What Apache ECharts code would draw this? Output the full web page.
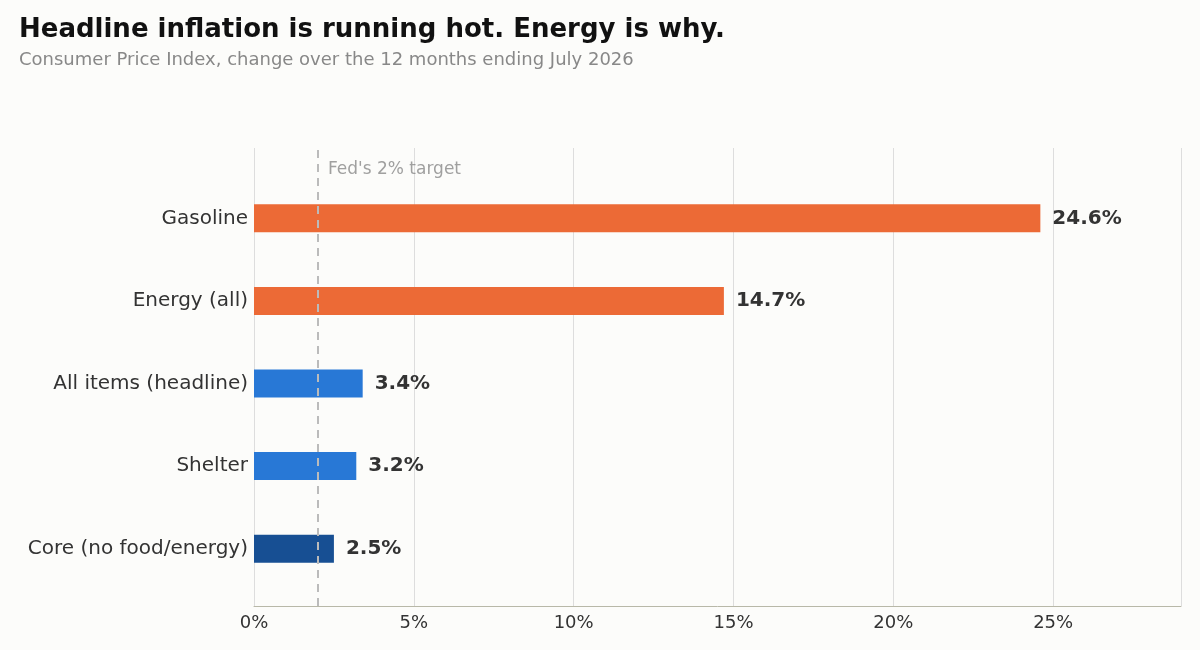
<!DOCTYPE html>
<html>
<head>
<meta charset="utf-8">
<script src="https://cdn.jsdelivr.net/npm/echarts@6/dist/echarts.min.js"></script>
<style>
  html, body { margin: 0; background: #fcfcfa; }
  #chart { width: 1200px; height: 650px; }
</style>
</head>
<body>
<div id="chart"></div>
<script>
// bottom to top
const categories = ['Core (no food/energy)', 'Shelter', 'All items (headline)', 'Energy (all)', 'Gasoline'];
const values = [2.5, 3.2, 3.4, 14.7, 24.6];
const barColors = ['#174f93', '#2878d6', '#2878d6', '#ec6a36', '#ec6a36'];
const xTicks = [0, 5, 10, 15, 20, 25];
const target = 2;

const chart = echarts.init(document.getElementById('chart'));

const font = 'DejaVu Sans';

chart.setOption({
  backgroundColor: '#fcfcfa',
  animation: false,
  textStyle: { fontFamily: font },
  title: {
    text: 'Headline inflation is running hot. Energy is why.',
    subtext: 'Consumer Price Index, change over the 12 months ending July 2026',
    left: 14, top: 12,
    itemGap: 8,
    textStyle: { fontFamily: font, fontSize: 26, fontWeight: 'bold', color: '#111' },
    subtextStyle: { fontFamily: font, fontSize: 18, color: '#888' }
  },
  grid: [
    { left: 254, right: 19, top: 177, bottom: 60 },
    { left: 254, right: 19, top: 148, bottom: 44 }
  ],
  xAxis: [
    { gridIndex: 0, type: 'value', min: 0, max: 29, show: false },
    {
      gridIndex: 1, type: 'value', min: 0, max: 29, interval: 5,
      axisLine: { show: true, lineStyle: { color: '#b8b8a8' } },
      axisTick: { show: false },
      axisLabel: {
        color: '#333', fontSize: 18, margin: 8,
        formatter: v => xTicks.includes(v) ? v + '%' : ''
      },
      splitLine: { show: true, lineStyle: { color: '#dddddd' } }
    }
  ],
  yAxis: [
    {
      gridIndex: 0, type: 'category', data: categories,
      axisLine: { show: false }, axisTick: { show: false },
      axisLabel: { color: '#333', fontSize: 20, margin: 6 }
    },
    { gridIndex: 1, type: 'value', min: 0, max: 1, show: false }
  ],
  series: [
    {
      type: 'bar', xAxisIndex: 0, yAxisIndex: 0,
      barWidth: 28,
      data: values.map((v, i) => ({ value: v, itemStyle: { color: barColors[i] } })),
      label: {
        show: true, position: 'right', distance: 12,
        fontSize: 20, fontWeight: 'bold', color: '#333',
        formatter: p => p.value.toFixed(1) + '%'
      },
      z: 3
    },
    {
      type: 'scatter', xAxisIndex: 1, yAxisIndex: 1,
      symbolSize: 0,
      data: [[target, 0.952]],
      label: {
        show: true, position: 'right', distance: 10,
        formatter: "Fed's 2% target", fontSize: 17, color: '#888'
      },
      markLine: {
        silent: true, symbol: 'none',
        label: { show: false },
        lineStyle: { color: '#bbbbbb', type: [8, 6], width: 2 },
        data: [{ xAxis: target }]
      },
      z: 4
    }
  ]
});
</script>
</body>
</html>
